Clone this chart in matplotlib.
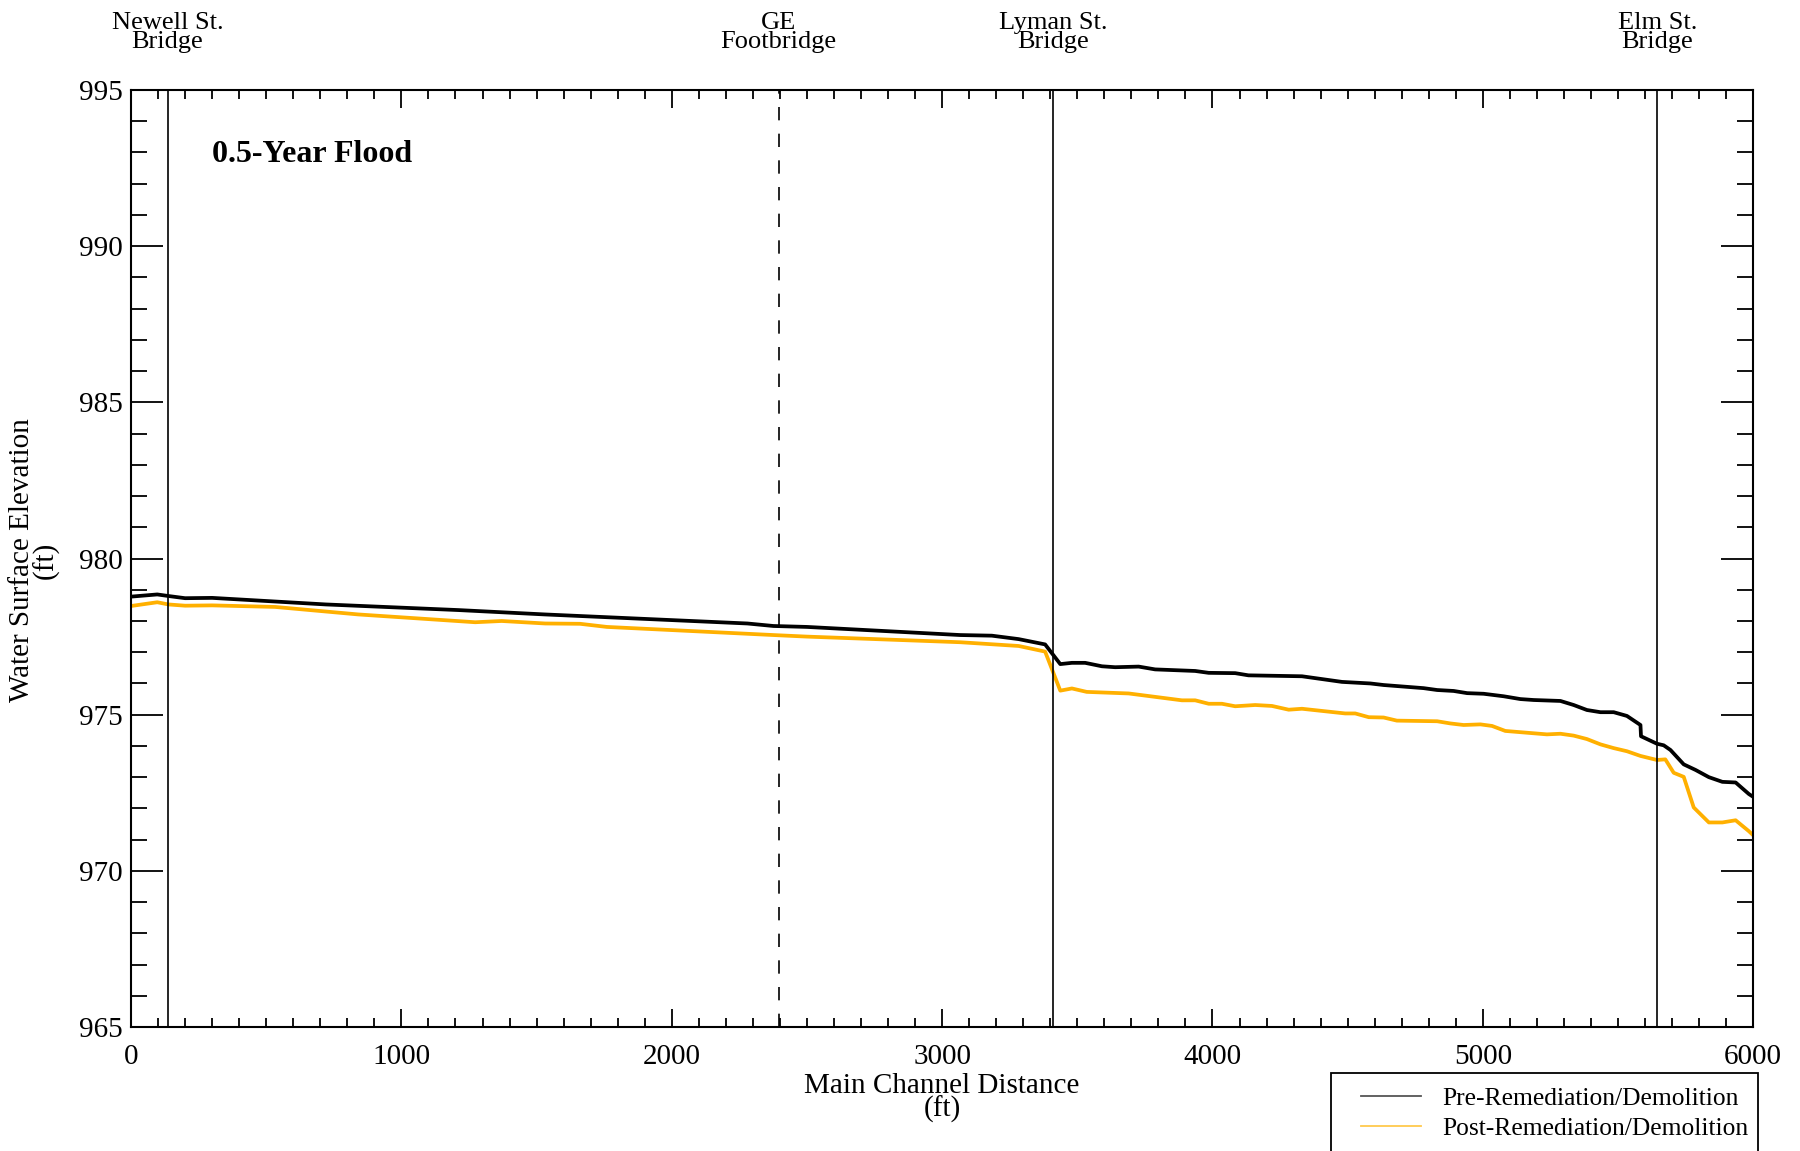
import matplotlib
matplotlib.use("Agg")
import matplotlib.pyplot as plt
from matplotlib.lines import Line2D
from matplotlib.patches import Rectangle
from matplotlib.ticker import MultipleLocator
import matplotlib.transforms as mtransforms

plt.rcParams['font.family'] = ['Liberation Serif', 'DejaVu Serif']

# water surface profile, pre-remediation (ft along channel, ft elevation)
pre_x = [0, 97, 138, 200, 300, 720, 1210, 1530, 2280, 2376, 2500, 3067, 3184, 3283,
         3381, 3437, 3480, 3529, 3591, 3640, 3727, 3788, 3936, 3986, 4084, 4133, 4331,
         4479, 4584, 4633, 4781, 4831, 4892, 4942, 5003, 5077, 5139, 5188, 5287, 5336,
         5385, 5435, 5484, 5533, 5583, 5585, 5644, 5669, 5694, 5743, 5787, 5836, 5886,
         5935, 5984, 6000]
pre_y = [978.78, 978.85, 978.80, 978.73, 978.74, 978.53, 978.35, 978.21, 977.92, 977.84,
         977.81, 977.55, 977.53, 977.42, 977.25, 976.62, 976.66, 976.66, 976.55, 976.52,
         976.54, 976.45, 976.40, 976.34, 976.33, 976.26, 976.23, 976.05, 976.00, 975.95,
         975.85, 975.79, 975.76, 975.69, 975.67, 975.59, 975.50, 975.47, 975.44, 975.31,
         975.15, 975.08, 975.08, 974.96, 974.67, 974.31, 974.07, 974.02, 973.87, 973.41,
         973.23, 973.00, 972.85, 972.83, 972.46, 972.37]

# post-remediation
post_x = [0, 97, 138, 200, 300, 533, 840, 1273, 1371, 1532, 1661, 1760, 2376, 2500, 3067,
          3283, 3381, 3437, 3480, 3535, 3690, 3887, 3936, 3986, 4035, 4084, 4158, 4220,
          4282, 4331, 4491, 4528, 4578, 4633, 4682, 4831, 4880, 4929, 4991, 5034, 5083,
          5237, 5287, 5336, 5385, 5435, 5484, 5533, 5583, 5644, 5675, 5706, 5743, 5780,
          5836, 5886, 5935, 5984, 6000]
post_y = [978.48, 978.60, 978.53, 978.49, 978.50, 978.45, 978.21, 977.96, 978.00, 977.92,
          977.91, 977.81, 977.55, 977.50, 977.32, 977.20, 977.02, 975.77, 975.84, 975.73,
          975.68, 975.46, 975.46, 975.35, 975.35, 975.27, 975.31, 975.28, 975.16, 975.19,
          975.04, 975.04, 974.92, 974.91, 974.81, 974.79, 974.72, 974.67, 974.69, 974.64,
          974.48, 974.37, 974.39, 974.33, 974.22, 974.05, 973.93, 973.83, 973.68, 973.55,
          973.57, 973.14, 973.01, 972.03, 971.55, 971.55, 971.62, 971.27, 971.14]

bridge_x = [135, 2395, 3410, 5645]
bridge_names = ["Newell St.\nBridge", "GE\nFootbridge", "Lyman St.\nBridge", "Elm St.\nBridge"]
bridge_styles = ["-", "--", "-", "-"]

pre_color = "black"
post_color = "#FFB000"

fig = plt.figure(figsize=(18, 11.51), dpi=100)
ax = fig.add_axes([0.0728, 0.1077, 0.9012, 0.8141])

ax.plot(pre_x, pre_y, color=pre_color, lw=2.7, zorder=3)
ax.plot(post_x, post_y, color=post_color, lw=2.7, zorder=2)

for bx, st in zip(bridge_x, bridge_styles):
    if st == "--":
        ax.axvline(bx, color="black", lw=1.2, ls=(0, (8, 8)))
    else:
        ax.axvline(bx, color="black", lw=1.2)

ax.set_xlim(0, 6000)
ax.set_ylim(965, 995)
ax.xaxis.set_major_locator(MultipleLocator(1000))
ax.xaxis.set_minor_locator(MultipleLocator(100))
ax.yaxis.set_major_locator(MultipleLocator(5))
ax.yaxis.set_minor_locator(MultipleLocator(1))
ax.tick_params(axis="x", which="both", direction="in", top=True, bottom=True,
               labelsize=21, width=1.3, pad=12)
ax.tick_params(axis="x", which="major", length=13)
ax.tick_params(axis="x", which="minor", length=6.5)
ax.tick_params(axis="y", which="both", direction="in", left=True, right=True,
               labelsize=21, width=1.3, pad=6)
ax.tick_params(axis="y", which="major", length=23)
ax.tick_params(axis="y", which="minor", length=11.5)
for sp in ax.spines.values():
    sp.set_linewidth(1.5)

ax.text(300, 992.95, "0.5-Year Flood", fontsize=23, fontweight="bold",
        ha="left", va="center")

trans = mtransforms.blended_transform_factory(ax.transData, fig.transFigure)
for bx, name in zip(bridge_x, bridge_names):
    ax.text(bx, 0.972, name, transform=trans, ha="center", va="center",
            fontsize=19, linespacing=0.85)

fig.text(0.5233, 0.046, "Main Channel Distance\n(ft)", ha="center", va="center",
         fontsize=21, linespacing=0.85)
fig.text(0.019, 0.5135, "Water Surface Elevation\n(ft)", ha="center", va="center",
         rotation=90, fontsize=21, linespacing=0.85)

# legend box runs off the bottom edge of the figure
fig.patches.append(Rectangle((1331 / 1800, -0.01), (1758 - 1331) / 1800,
                             1 - 1073 / 1151 + 0.01, transform=fig.transFigure,
                             fill=False, edgecolor="black", lw=1.3))
handles = [Line2D([], [], color="#555555", lw=1.3),
           Line2D([], [], color="#FFC94D", lw=1.3)]
fig.legend(handles, ["Pre-Remediation/Demolition", "Post-Remediation/Demolition"],
           loc="upper left", bbox_to_anchor=(1348 / 1800, 1 - 1074 / 1151),
           frameon=False, fontsize=18.4, handlelength=2.35, handletextpad=0.85,
           labelspacing=0.3, borderpad=0)

fig.savefig("out.png", dpi=100)
